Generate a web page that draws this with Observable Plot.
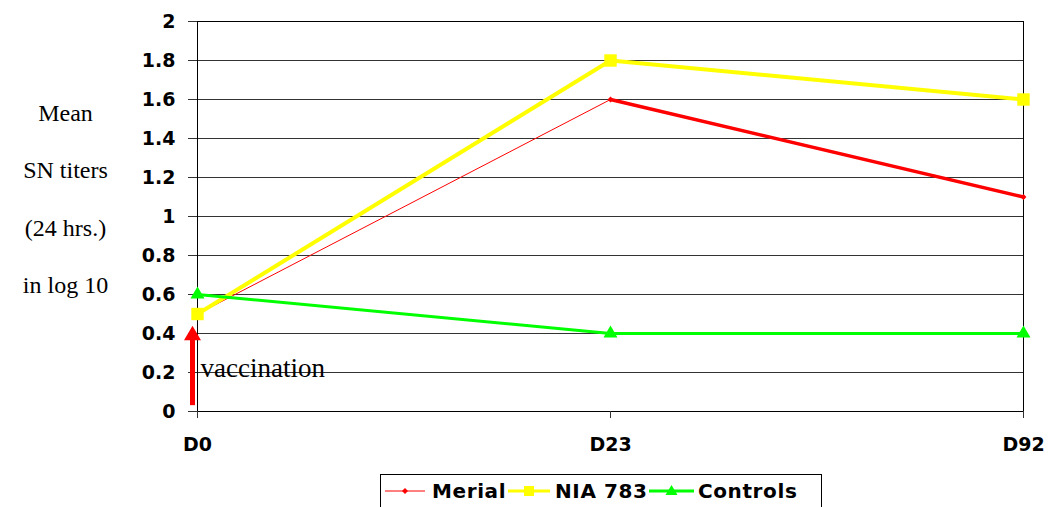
<!DOCTYPE html>
<html>
<head>
<meta charset="utf-8">
<script src="https://cdn.jsdelivr.net/npm/d3@7"></script>
<script src="https://cdn.jsdelivr.net/npm/@observablehq/plot@0.6"></script>
<style>
  html, body { margin: 0; padding: 0; background: #fff; }
  #chart { width: 1053px; }
  #legend {
    margin-top: 2px; margin-left: 380px; width: 442px; height: 36px;
    border: 1px solid #000; box-sizing: border-box;
    display: flex; align-items: flex-start; padding-top: 4px;
    font-family: "DejaVu Sans", sans-serif; font-weight: bold; font-size: 20px;
    letter-spacing: 0.6px; color: #000; white-space: nowrap;
  }
  #legend .item { display: flex; align-items: center; flex: none; }
  #legend svg { display: block; flex: none; }
  #legend span { white-space: nowrap; flex: none; }
</style>
</head>
<body>
<div id="chart"></div>
<div id="legend"></div>
<script>
const days = ["D0", "D23", "D92"];
const merial = [0.5, 1.6, 1.1];
const nia783 = [0.5, 1.8, 1.6];
const controls = [0.6, 0.4, 0.4];
const seriesNames = ["Merial", "NIA 783", "Controls"];
const yTicks = [0, 0.2, 0.4, 0.6, 0.8, 1, 1.2, 1.4, 1.6, 1.8, 2];
const yTitleLines = ["Mean", "SN titers", "(24 hrs.)", "in log 10"];
const annotationText = "vaccination";
const annotationDay = "D0";
const annotationValue = 0.2;
const arrowFrom = 0.03, arrowTo = 0.38, arrowHead = 0.39;

const colors = {"Merial": "#ff0000", "NIA 783": "#ffff00", "Controls": "#00ff00"};
const toRows = (name, vals) => days.map((d, i) => ({series: name, day: d, value: vals[i]}));
const merialRows = toRows("Merial", merial);
const niaRows = toRows("NIA 783", nia783);
const ctrlRows = toRows("Controls", controls);

const serif = "Liberation Serif, Times New Roman, serif";

const chart = Plot.plot({
  width: 1053,
  height: 472,
  marginLeft: 197,
  marginRight: 30,
  marginTop: 21,
  marginBottom: 61,
  style: {fontFamily: "DejaVu Sans, sans-serif", fontWeight: "bold", fontSize: "19px", color: "#000", background: "#fff"},
  x: {type: "point", domain: days, padding: 0, label: null},
  y: {domain: [0, 2], label: null},
  marks: [
    Plot.ruleY(yTicks, {stroke: "#333", strokeWidth: 1}),
    Plot.frame({stroke: "#000", strokeWidth: 1}),
    Plot.axisY({ticks: yTicks, tickSize: 9, tickPadding: 13, tickFormat: d => String(+d.toFixed(1)), label: null, stroke: "#333"}),
    Plot.axisX({tickSize: 7, tickPadding: 19, label: null, stroke: "#333"}),
    // Merial: thin first segment, thick second
    Plot.line(merialRows.slice(0, 2), {x: "day", y: "value", stroke: colors["Merial"], strokeWidth: 1}),
    Plot.line(merialRows.slice(1), {x: "day", y: "value", stroke: colors["Merial"], strokeWidth: 3.5}),
    Plot.dot(merialRows, {x: "day", y: "value", symbol: "diamond2", r: 2.6, fill: colors["Merial"], stroke: "none"}),
    Plot.line(niaRows, {x: "day", y: "value", stroke: colors["NIA 783"], strokeWidth: 4}),
    Plot.dot(niaRows, {x: "day", y: "value", symbol: "square", r: 7, fill: colors["NIA 783"], stroke: "none"}),
    Plot.line(ctrlRows, {x: "day", y: "value", stroke: colors["Controls"], strokeWidth: 3}),
    Plot.dot(ctrlRows, {x: "day", y: "value", symbol: "triangle", r: 5.2, fill: colors["Controls"], stroke: "none"}),
    // vaccination arrow
    Plot.ruleX([annotationDay], {x: d => d, y1: arrowFrom, y2: arrowTo, dx: -5, stroke: "#ff0000", strokeWidth: 5}),
    Plot.dot([annotationDay], {x: d => d, y: arrowHead, dx: -5, symbol: "triangle", r: 6.3, fill: "#ff0000", stroke: "none"}),
    Plot.text([annotationText], {x: () => annotationDay, y: () => annotationValue, text: d => d, textAnchor: "start", dx: 3, dy: -4,
      fontFamily: serif, fontWeight: "normal", fontSize: 27, fill: "#000"}),
    // y title
    Plot.text([yTitleLines.join("\n")], {frameAnchor: "left", text: d => d, dx: -132, dy: -28, lineHeight: 2.4,
      textAnchor: "middle", fontFamily: serif, fontWeight: "normal", fontSize: 24, fill: "#000"})
  ]
});
document.getElementById("chart").appendChild(chart);

// legend
const legend = document.getElementById("legend");
const specs = [
  {name: seriesNames[0], w: 40, pre: 4, gap: 7, tw: 76, sym: "diamond"},
  {name: seriesNames[1], w: 42, pre: 0, gap: 5, tw: 94, sym: "square"},
  {name: seriesNames[2], w: 45, pre: 0, gap: 4, tw: 105, sym: "triangle"}
];
for (const s of specs) {
  const item = document.createElement("div");
  item.className = "item";
  item.style.marginLeft = s.pre + "px";
  const c = colors[s.name];
  let marker = "";
  const cx = s.w / 2, cy = 11;
  if (s.sym === "diamond") marker = `<path d="M${cx},${cy-3}L${cx+3},${cy}L${cx},${cy+3}L${cx-3},${cy}Z" fill="${c}"/>`;
  if (s.sym === "square") marker = `<rect x="${cx-5}" y="${cy-5}" width="10" height="10" fill="${c}"/>`;
  if (s.sym === "triangle") marker = `<path d="M${cx},${cy-6}L${cx+6},${cy+4}L${cx-6},${cy+4}Z" fill="${c}"/>`;
  const sw = s.sym === "diamond" ? 1 : 3;
  item.innerHTML = `<svg width="${s.w}" height="22"><line x1="0" x2="${s.w}" y1="${cy}" y2="${cy}" stroke="${c}" stroke-width="${sw}"/>${marker}</svg>` +
    `<span style="margin-left:${s.gap}px;display:inline-block;min-width:${s.tw}px">${s.name}</span>`;
  legend.appendChild(item);
}
</script>
</body>
</html>
